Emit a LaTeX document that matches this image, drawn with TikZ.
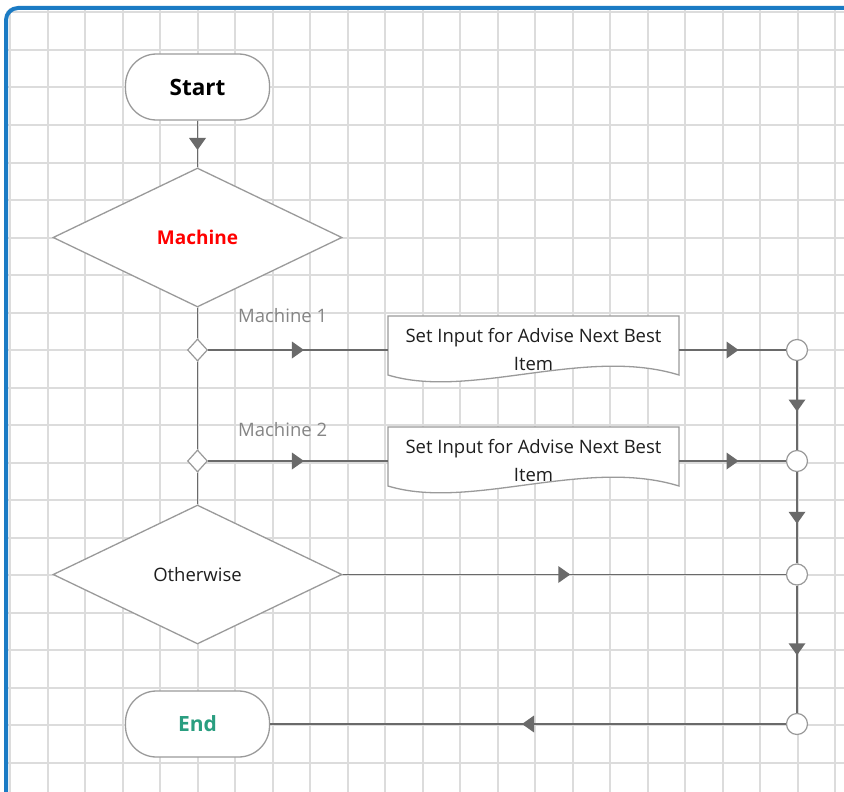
\documentclass[tikz,border=0pt]{standalone}
\usepackage{fontspec}
\setmainfont{Open Sans}
\usetikzlibrary{shapes.geometric,calc,decorations.markings}
\definecolor{gridc}{HTML}{DCDCDC}
\definecolor{framec}{HTML}{1B7BC4}
\definecolor{shapec}{HTML}{9A9A9A}
\definecolor{linec}{HTML}{6A6A6A}
\definecolor{endc}{HTML}{2A9E80}
\definecolor{labelc}{HTML}{858585}
\definecolor{txtc}{HTML}{1E1E1E}
\pgfdeclarelayer{gridlayer}
\pgfdeclarelayer{shapelayer}
\pgfsetlayers{gridlayer,shapelayer,main}
\tikzset{
  term/.style={draw=shapec, line width=1.3pt, fill=white, rounded corners=31pt,
    minimum width=144pt, minimum height=66pt, inner sep=0pt},
  decision/.style={diamond, draw=shapec, line width=1.3pt, fill=white,
    minimum width=289pt, minimum height=139pt, inner sep=0pt, aspect=2.08},
  junction/.style={diamond, draw=shapec, line width=1.2pt, fill=white,
    minimum width=20pt, minimum height=22pt, inner sep=0pt},
  merge/.style={circle, draw=shapec, line width=1.2pt, fill=white,
    minimum size=21pt, inner sep=0pt},
  doctext/.style={align=center, font=\fontsize{18.5}{28}\selectfont, text=txtc,
    minimum width=291pt, inner sep=0pt},
  docshape/.style={draw=shapec, line width=1.3pt, fill=white},
  flow/.style={draw=linec, line width=1.6pt, postaction={decorate},
    decoration={markings, mark=at position 0.5 with
      {\fill[linec] (6pt,0pt) -- (-6pt,8.5pt) -- (-6pt,-8.5pt) -- cycle;}}},
  plain/.style={draw=linec, line width=1.6pt},
  brlabel/.style={text=labelc, font=\fontsize{18.5}{22}\selectfont, anchor=west, inner sep=0pt},
  gridline/.style={draw=gridc, line width=2pt},
}
\begin{document}
\begin{tikzpicture}[x=1pt,y=-1pt]
\useasboundingbox (0,0) rectangle (844,792);
\begin{pgfonlayer}{gridlayer}
  \fill[white] (0,0) rectangle (844,792);
  \foreach \i in {0,...,22} \draw[gridline] ({10+37.5*\i},8) -- ({10+37.5*\i},800);
  \foreach \j in {0,...,20} \draw[gridline] (6,{12.5+37.5*\j}) -- (850,{12.5+37.5*\j});
  \draw[framec, line width=4pt, rounded corners=12pt] (6,830) -- (6,8) -- (870,8);
\end{pgfonlayer}

% nodes
\node[term, font=\fontsize{22.5}{26}\selectfont\bfseries, text=black] (start) at (197.5,87) {Start};
\node[decision, font=\fontsize{19}{22}\selectfont\bfseries, text=red] (machine) at (197.5,237.5) {Machine};
\node[junction] (j1) at (197.5,350) {};
\node[junction] (j2) at (197.5,461) {};
\node[decision, font=\fontsize{18.5}{22}\selectfont, text=txtc] (other) at (197.5,574.5) {Otherwise};
\node[term, font=\fontsize{21}{26}\selectfont\bfseries, text=endc] (end) at (197.5,724) {End};
\node[doctext] (p1) at (533.5,350) {Set Input for Advise Next Best\\Item};
\node[doctext] (p2) at (533.5,461) {Set Input for Advise Next Best\\Item};
\node[merge] (m1) at (797,350) {};
\node[merge] (m2) at (797,461) {};
\node[merge] (m3) at (797,574.5) {};
\node[merge] (m4) at (797,724) {};

\node[brlabel] (l1) at (238,316) {Machine 1};
\node[brlabel] (l2) at (238,430) {Machine 2};

% document shapes
\begin{pgfonlayer}{shapelayer}
  \foreach \p in {p1,p2} {
    \draw[docshape] ($(\p.center)+(-145.5,-34)$) -- ($(\p.center)+(145.5,-34)$)
      -- ($(\p.center)+(145.5,25)$)
      .. controls ($(\p.center)+(51.5,-4)$) and ($(\p.center)+(-63.5,50)$) ..
      ($(\p.center)+(-145.5,25)$) -- cycle;
  }
\end{pgfonlayer}

% connectors
\draw[flow] (start) -- (machine);
\draw[plain] (machine) -- (j1);
\draw[plain] (j1) -- (j2);
\draw[plain] (j2) -- (other);
\draw[flow] (j1) -- (p1);
\draw[flow] (j2) -- (p2);
\draw[flow] (p1) -- (m1);
\draw[flow] (p2) -- (m2);
\draw[flow] (m1) -- (m2);
\draw[flow] (m2) -- (m3);
\draw[flow] (m3) -- (m4);
\draw[flow] (other) -- (m3);
\draw[flow] (m4) -- (end);
\end{tikzpicture}
\end{document}
